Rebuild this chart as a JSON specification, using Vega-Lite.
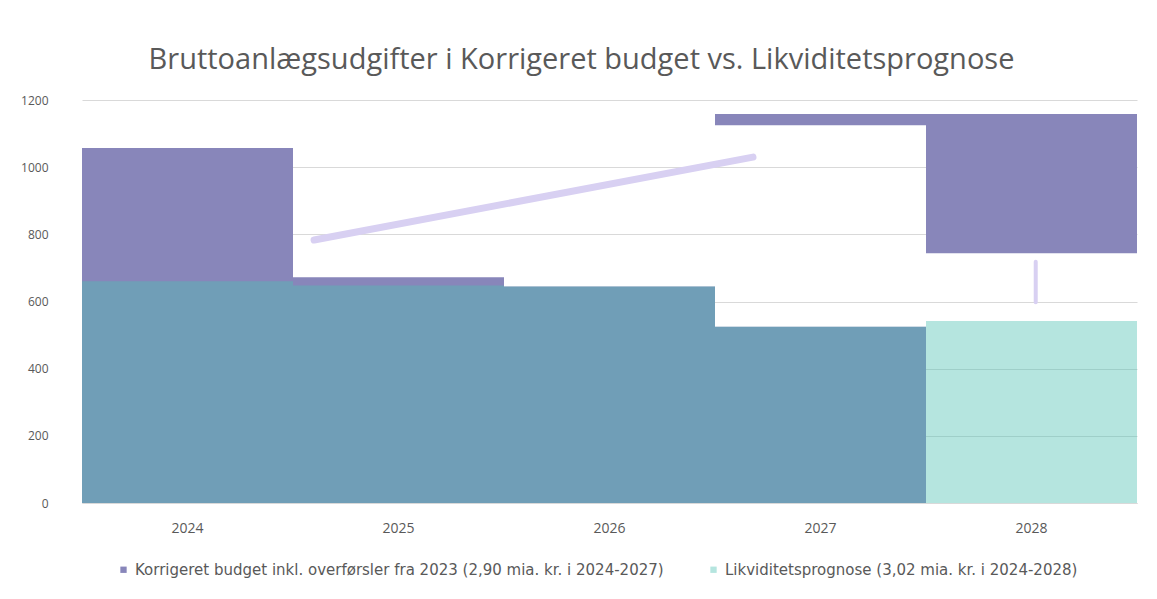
{
  "$schema": "https://vega.github.io/schema/vega-lite/v6.json",
  "width": 1157,
  "height": 599,
  "autosize": {"type": "fit", "contains": "padding"},
  "padding": {"left": 20, "right": 20, "top": 46, "bottom": 64},
  "background": "white",
  "title": {
    "text": "Bruttoanlægsudgifter i Korrigeret budget vs. Likviditetsprognose",
    "font": "Open Sans",
    "fontSize": 29,
    "fontWeight": "normal",
    "color": "#595959",
    "anchor": "middle",
    "dx": -28,
    "offset": 19
  },
  "config": {
    "view": {"stroke": null},
    "font": "Open Sans",
    "axis": {"labelColor": "#595959", "labelFontSize": 12, "labelFont": "Open Sans", "titleColor": "#595959"},
    "legend": {"labelColor": "#595959", "labelFontSize": 15, "labelFont": "DejaVu Sans"}
  },
  "datasets": {
    "series": [
      {"year": "2024", "serie": "Korrigeret budget inkl. overførsler fra 2023 (2,90 mia. kr. i 2024-2027)", "value": 1057},
      {"year": "2025", "serie": "Korrigeret budget inkl. overførsler fra 2023 (2,90 mia. kr. i 2024-2027)", "value": 672},
      {"year": "2026", "serie": "Korrigeret budget inkl. overførsler fra 2023 (2,90 mia. kr. i 2024-2027)", "value": 645},
      {"year": "2027", "serie": "Korrigeret budget inkl. overførsler fra 2023 (2,90 mia. kr. i 2024-2027)", "value": 525},
      {"year": "2024", "serie": "Likviditetsprognose (3,02 mia. kr. i 2024-2028)", "value": 660},
      {"year": "2025", "serie": "Likviditetsprognose (3,02 mia. kr. i 2024-2028)", "value": 648},
      {"year": "2026", "serie": "Likviditetsprognose (3,02 mia. kr. i 2024-2028)", "value": 645},
      {"year": "2027", "serie": "Likviditetsprognose (3,02 mia. kr. i 2024-2028)", "value": 525},
      {"year": "2028", "serie": "Likviditetsprognose (3,02 mia. kr. i 2024-2028)", "value": 542}
    ],
    "callout": [
      {"year": "2027", "low": 1125, "high": 1158},
      {"year": "2028", "low": 744, "high": 1158}
    ],
    "arrows": [
      {"arrow": "a", "pos": 2024.6, "value": 783},
      {"arrow": "a", "pos": 2026.68, "value": 1030},
      {"arrow": "b", "pos": 2028.02, "value": 718},
      {"arrow": "b", "pos": 2028.02, "value": 598}
    ]
  },
  "resolve": {"scale": {"x": "independent"}, "axis": {"x": "independent"}},
  "layer": [
    {
      "data": {"name": "series"},
      "transform": [{"filter": "indexof(datum.serie, 'Korrigeret') >= 0"}],
      "mark": {"type": "bar"},
      "encoding": {
        "x": {
          "field": "year", "type": "nominal",
          "scale": {"domain": ["2024", "2025", "2026", "2027", "2028"], "paddingInner": 0, "paddingOuter": 0},
          "axis": {"title": null, "labelAngle": 0, "ticks": false, "domainColor": "#d9d9d9", "labelPadding": 18, "labelFontSize": 14}
        },
        "y": {
          "field": "value", "type": "quantitative",
          "scale": {"domain": [0, 1200]},
          "axis": {"title": null, "values": [0, 200, 400, 600, 800, 1000, 1200], "format": "d", "domain": false, "ticks": false, "gridColor": "#d9d9d9", "labelPadding": 34}
        },
        "color": {
          "field": "serie", "type": "nominal",
          "scale": {
            "domain": ["Korrigeret budget inkl. overførsler fra 2023 (2,90 mia. kr. i 2024-2027)", "Likviditetsprognose (3,02 mia. kr. i 2024-2028)"],
            "range": ["#8886ba", "#4fc1b3"]
          },
          "legend": {
            "title": null, "orient": "none", "legendX": 34, "legendY": 462, "direction": "horizontal",
            "symbolType": "square", "symbolSize": 40, "columnPadding": 42, "labelLimit": 700,
            "encode": {"symbols": {"update": {"opacity": {"signal": "indexof(datum.label, 'Likv') >= 0 ? 0.42 : 1"}}}}
          }
        }
      }
    },
    {
      "data": {"name": "series"},
      "transform": [{"filter": "indexof(datum.serie, 'Likv') >= 0"}],
      "mark": {"type": "bar", "opacity": 0.42},
      "encoding": {
        "x": {
          "field": "year", "type": "nominal",
          "scale": {"domain": ["2024", "2025", "2026", "2027", "2028"], "paddingInner": 0, "paddingOuter": 0},
          "axis": null
        },
        "y": {"field": "value", "type": "quantitative"},
        "color": {"field": "serie", "type": "nominal"}
      }
    },
    {
      "data": {"name": "callout"},
      "mark": {"type": "bar", "color": "#8886ba"},
      "encoding": {
        "x": {
          "field": "year", "type": "nominal",
          "scale": {"domain": ["2024", "2025", "2026", "2027", "2028"], "paddingInner": 0, "paddingOuter": 0},
          "axis": null
        },
        "y": {"field": "low", "type": "quantitative"},
        "y2": {"field": "high"}
      }
    },
    {
      "data": {"name": "arrows"},
      "mark": {"type": "line", "color": "#d8d0f2", "strokeCap": "round"},
      "encoding": {
        "x": {"field": "pos", "type": "quantitative", "scale": {"domain": [2023.5, 2028.5], "nice": false, "zero": false}, "axis": null},
        "y": {"field": "value", "type": "quantitative"},
        "detail": {"field": "arrow"},
        "strokeWidth": {"field": "arrow", "type": "nominal", "scale": {"domain": ["a", "b"], "range": [7, 4]}, "legend": null}
      }
    }
  ]
}
